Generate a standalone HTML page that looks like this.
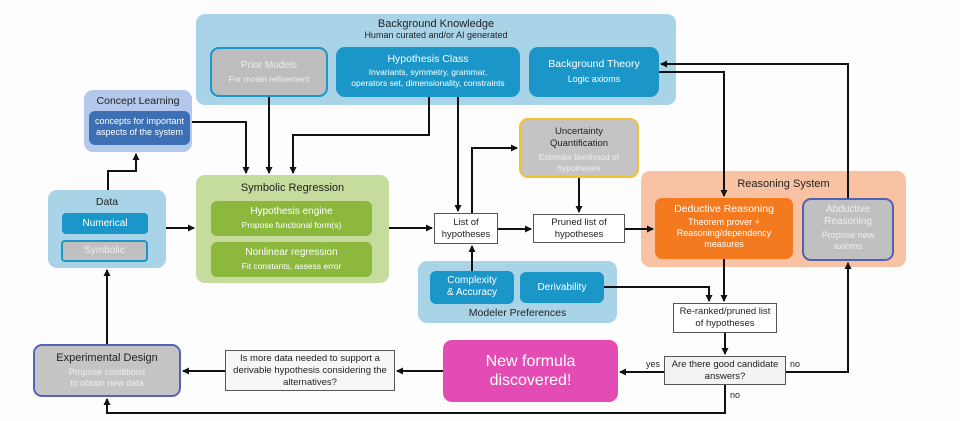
<!DOCTYPE html>
<html><head><meta charset="utf-8"><style>
body{margin:0;width:960px;height:421px;background:#fdfdfd;position:relative;overflow:hidden;font-family:"Liberation Sans",sans-serif}
.b{position:absolute;box-sizing:border-box;border-radius:9px;text-align:center}
.t{color:#222;font-size:11px}
.w{color:#fff}
.box{position:absolute;box-sizing:border-box;background:#fff;border:1px solid #555;text-align:center;font-size:9.5px;color:#222;line-height:12px;display:flex;align-items:center;justify-content:center}
svg{position:absolute;left:0;top:0}
</style></head><body>
<div class="b" style="left:196px;top:14px;width:480px;height:91px;background:#a9d4e8;padding-top:4px"><div class="t">Background Knowledge</div><div class="t" style="font-size:9px">Human curated and/or AI generated</div></div>
<div class="b w" style="left:210px;top:47px;width:118px;height:50px;background:#bdbdbd;border:2px solid #1a96c8;padding-top:11px;font-size:10px;color:#eee">Prior Models<div style="font-size:8.5px;margin-top:3px">For model refinement</div></div>
<div class="b w" style="left:336px;top:47px;width:184px;height:50px;background:#1a96c8;padding-top:6px;font-size:10.5px">Hypothesis Class<div style="font-size:8.5px;margin-top:2px;line-height:11px">Invariants, symmetry, grammar,<br>operators set, dimensionality, constraints</div></div>
<div class="b w" style="left:529px;top:47px;width:130px;height:50px;background:#1a96c8;padding-top:11px;font-size:10.5px">Background Theory<div style="font-size:9px;margin-top:4px">Logic axioms</div></div>

<div class="b" style="left:84px;top:90px;width:108px;height:62px;background:#b3c8ea;padding-top:5px"><div class="t" style="font-size:10.5px">Concept Learning</div></div>
<div class="b w" style="left:89px;top:111px;width:101px;height:34px;background:#3d6fb5;border-radius:6px;font-size:9px;line-height:11px;padding-top:5px">concepts for important aspects of the system</div>

<div class="b" style="left:48px;top:190px;width:118px;height:78px;background:#a9d4e8;padding-top:6px"><div class="t" style="font-size:10.5px">Data</div></div>
<div class="b w" style="left:62px;top:213px;width:86px;height:21px;background:#1a96c8;border-radius:4px;font-size:10px;line-height:21px">Numerical</div>
<div class="b w" style="left:61px;top:240px;width:87px;height:22px;background:#c0c0c0;border:2px solid #1a96c8;border-radius:4px;font-size:10px;line-height:18px;color:#eee;padding:0">Symbolic</div>

<div class="b" style="left:196px;top:175px;width:193px;height:108px;background:#c5dc9c;padding-top:7px"><div class="t" style="font-size:11px">Symbolic Regression</div></div>
<div class="b w" style="left:211px;top:201px;width:161px;height:35px;background:#8cb83e;border-radius:6px;font-size:10px;padding-top:5px">Hypothesis engine<div style="font-size:8.5px;margin-top:3px">Propose functional form(s)</div></div>
<div class="b w" style="left:211px;top:242px;width:161px;height:35px;background:#8cb83e;border-radius:6px;font-size:10px;padding-top:5px">Nonlinear regression<div style="font-size:8.5px;margin-top:3px">Fit constants, assess error</div></div>

<div class="box" style="left:434px;top:213px;width:64px;height:31px">List of<br>hypotheses</div>
<div class="box" style="left:533px;top:214px;width:92px;height:29px">Pruned list of<br>hypotheses</div>

<div class="b" style="left:519px;top:118px;width:120px;height:60px;background:#c4c4c4;border:2px solid #f2c230;padding-top:6px;font-size:9.5px;line-height:12px;color:#222">Uncertainty<br>Quantification<div style="color:#eee;font-size:8.5px;line-height:11px;margin-top:2px">Estimate likelihood of<br>hypotheses</div></div>

<div class="b" style="left:418px;top:261px;width:199px;height:62px;background:#a9d4e8"><div class="t" style="position:absolute;left:0;right:0;top:46px;font-size:10.5px">Modeler Preferences</div></div>
<div class="b w" style="left:430px;top:271px;width:84px;height:33px;background:#1a96c8;border-radius:6px;font-size:10px;line-height:12px;padding-top:4px">Complexity<br>&amp; Accuracy</div>
<div class="b w" style="left:520px;top:272px;width:84px;height:31px;background:#1a96c8;border-radius:6px;font-size:10px;line-height:31px">Derivability</div>

<div class="b" style="left:641px;top:171px;width:265px;height:96px;background:#f9c3a3;padding-top:7px"><div class="t" style="font-size:11px;position:relative;left:10px">Reasoning System</div></div>
<div class="b w" style="left:655px;top:198px;width:138px;height:61px;background:#f47a20;border-radius:7px;font-size:10.5px;padding-top:5px;line-height:12px">Deductive Reasoning<div style="font-size:9px;line-height:11px;margin-top:2px">Theorem prover +<br>Reasoning/dependency<br>measures</div></div>
<div class="b" style="left:802px;top:198px;width:92px;height:63px;background:#c0c0c0;border:2px solid #4f62b0;color:#eee;font-size:10px;line-height:12px;padding-top:4px">Abductive<br>Reasoning<div style="font-size:9px;line-height:11px;margin-top:2px">Propose new<br>axioms</div></div>

<div class="box" style="left:673px;top:303px;width:104px;height:30px">Re-ranked/pruned list<br>of hypotheses</div>
<div class="box" style="left:664px;top:356px;width:122px;height:29px;background:#f2f2f2">Are there good candidate<br>answers?</div>

<div class="b w" style="left:443px;top:340px;width:175px;height:62px;background:#e44cb5;font-size:16px;line-height:19px;padding-top:12px">New formula<br>discovered!</div>
<div class="box" style="left:225px;top:350px;width:170px;height:41px;background:#f6f6f6;font-size:9.5px">Is more data needed to support a<br>derivable hypothesis considering the<br>alternatives?</div>
<div class="b" style="left:33px;top:344px;width:148px;height:53px;background:#c4c4c4;border:2px solid #5563b8;padding-top:6px;font-size:11px;color:#222">Experimental Design<div style="color:#eee;font-size:9px;line-height:11px;margin-top:3px">Propose conditions<br>to obtain new data</div></div>

<div style="position:absolute;left:646px;top:359px;font-size:9px;color:#222">yes</div>
<div style="position:absolute;left:790px;top:359px;font-size:9px;color:#222">no</div>
<div style="position:absolute;left:730px;top:390px;font-size:9px;color:#222">no</div>

<svg width="960" height="421" viewBox="0 0 960 421">
<defs><marker id="a" markerWidth="7" markerHeight="7" refX="6" refY="3.5" orient="auto" markerUnits="userSpaceOnUse"><path d="M0,0L7,3.5L0,7z" fill="#111"/></marker></defs>
<g fill="none" stroke="#111" stroke-width="2" marker-end="url(#a)">
<path d="M108,190V171H136V154"/>
<path d="M192,122H246V173"/>
<path d="M269,97V173"/>
<path d="M429,97V135H293V173"/>
<path d="M458,97V211"/>
<path d="M472,213V148H517"/>
<path d="M579,178V212"/>
<path d="M498,229H531"/>
<path d="M625,229H653"/>
<path d="M166,228H194"/>
<path d="M389,228H432"/>
<path d="M472,271V246"/>
<path d="M659,72H724V196"/>
<path d="M848,198V64H661"/>
<path d="M604,287H709V301"/>
<path d="M724,259V301"/>
<path d="M725,333V354"/>
<path d="M664,372H620"/>
<path d="M786,372H848V263"/>
<path d="M725,385V413H107V399"/>
<path d="M443,371H397"/>
<path d="M225,371H183"/>
<path d="M107,344V270"/>
</g>
</svg>
</body></html>
